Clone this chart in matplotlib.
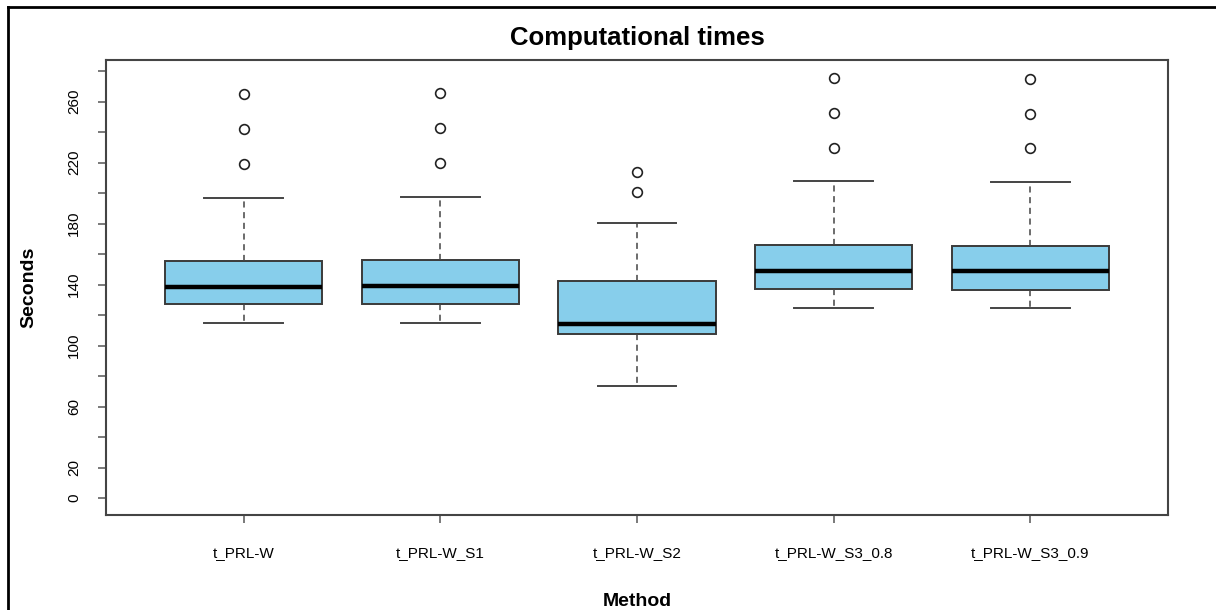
import numpy as np
import matplotlib
matplotlib.use("Agg")
import matplotlib.pyplot as plt
from matplotlib.lines import Line2D

plt.rcParams['font.family'] = ['Liberation Sans', 'DejaVu Sans']

# values
methods = ["t_PRL-W", "t_PRL-W_S1", "t_PRL-W_S2", "t_PRL-W_S3_0.8", "t_PRL-W_S3_0.9"]
q1 = [127.0, 127.4, 107.3, 137.0, 136.4]
med = [138.4, 138.8, 114.1, 149.1, 148.6]
q3 = [155.4, 155.8, 142.5, 165.7, 165.4]
whis_lo = [114.5, 114.8, 73.2, 124.8, 124.4]
whis_hi = [196.9, 197.4, 180.1, 207.9, 207.2]
outliers = [[219.2, 241.8, 265.0],
            [219.9, 242.6, 265.4],
            [200.7, 214.0],
            [229.7, 252.5, 275.6],
            [229.3, 251.8, 274.8]]

stats = []
for i in range(len(methods)):
    stats.append(dict(label=methods[i], q1=q1[i], med=med[i], q3=q3[i],
                      whislo=whis_lo[i], whishi=whis_hi[i], fliers=outliers[i]))

fig = plt.figure(figsize=(12.16, 6.10), dpi=100)
ax = fig.add_axes([0.0872, 0.1557, 0.8733, 0.7459])

edge = '#3a3a3a'
ax.bxp(stats, positions=range(1, 6), widths=0.8, patch_artist=True,
       boxprops=dict(facecolor='#87CEEB', edgecolor=edge, linewidth=1.4),
       medianprops=dict(color='black', linewidth=3.2, solid_capstyle='butt'),
       whiskerprops=dict(color='#444444', linewidth=1.1, linestyle=(0, (4, 3))),
       capprops=dict(color='#444444', linewidth=1.4),
       capwidths=0.4,
       flierprops=dict(marker='o', markerfacecolor='none', markeredgecolor='#222222',
                       markersize=7, markeredgewidth=1.2))

ax.set_xlim(0.3, 5.7)
ax.set_ylim(-11.1, 287.2)

yt = np.arange(0, 281, 20)
ax.set_yticks(yt)
ax.set_yticklabels([str(v) if v in (0, 20, 60, 100, 140, 180, 220, 260) else '' for v in yt],
                   rotation=90, va='center', fontsize=11)
ax.set_xticks(range(1, 6))
ax.set_xticklabels(methods, fontsize=11)
ax.tick_params(axis='y', length=6, width=1.1, color='#555555', pad=12)
ax.tick_params(axis='x', length=6, width=1.1, color='#555555', pad=16)

for s in ax.spines.values():
    s.set_color('#444444')
    s.set_linewidth(1.5)

ax.set_title("Computational times", fontsize=18.5, fontweight='bold', pad=11)
ax.set_xlabel("Method", fontsize=14, fontweight='bold', labelpad=24)
ax.set_ylabel("Seconds", fontsize=14, fontweight='bold', labelpad=21)

# outer frame of the screenshot (left and top edges)
fig.add_artist(Line2D([0.0066, 0.0066], [0.0, 0.9885], transform=fig.transFigure,
                      color='black', linewidth=2))
fig.add_artist(Line2D([0.0066, 1.0], [0.9885, 0.9885], transform=fig.transFigure,
                      color='black', linewidth=2))

fig.savefig("out.png", dpi=100)
